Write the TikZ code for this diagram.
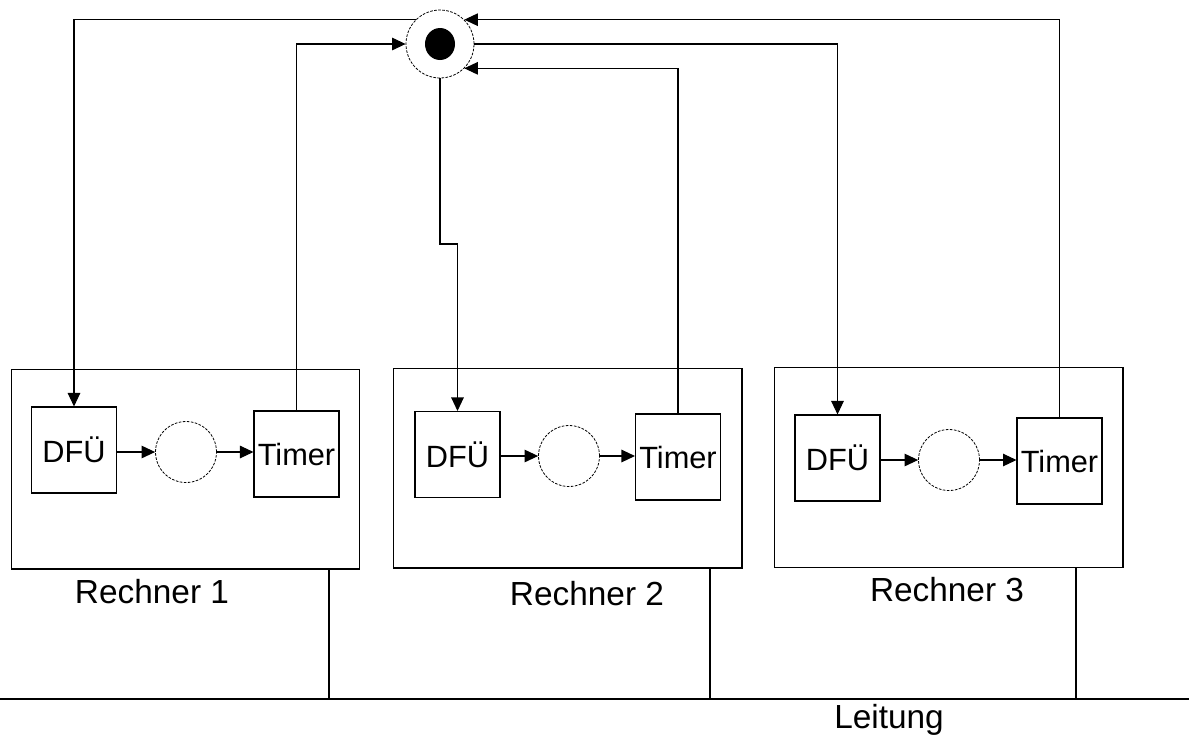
\documentclass[tikz,border=0pt]{standalone}
\usepackage{fontspec}
\setmainfont{Liberation Sans}
\usetikzlibrary{arrows.meta}

\begin{document}
\begin{tikzpicture}[x=0.02cm,y=-0.02cm,line width=0.6pt,
  flow/.style={-{Triangle[length=0.27cm,width=0.25cm]}},
  rechner/.style={draw,minimum width=6.98cm,minimum height=4cm,inner sep=0pt},
  unit/.style={draw,minimum width=1.7cm,minimum height=1.72cm,inner sep=0pt,font=\fontsize{17.5}{19}\selectfont},
  queue/.style={draw,circle,dash pattern=on 1.5pt off 0.8pt,line width=0.45pt,minimum size=1.22cm,inner sep=0pt},
  lbl/.style={font=\fontsize{19}{21}\selectfont}]
\useasboundingbox (0,0) rectangle (1189,738);

\node[queue,minimum size=1.36cm] (hub) at (440,44) {};
\fill (hub.center) ellipse [x radius=0.3cm,y radius=0.32cm];

\node[rechner] (r1) at (185.5,469) {};
\node[rechner] (r2) at (567.5,468) {};
\node[rechner] (r3) at (948.5,467.5) {};

\node[unit] (dfu1) at (74,450) {DFÜ};
\node[queue] (q1) at (186,452) {};
\node[unit] (timer1) at (296.5,454) {Timer};

\node[unit] (dfu2) at (457.5,454.5) {DFÜ};
\node[queue] (q2) at (569,456) {};
\node[unit] (timer2) at (678,457) {Timer};

\node[unit] (dfu3) at (837.5,458) {DFÜ};
\node[queue] (q3) at (949,460) {};
\node[unit] (timer3) at (1059.5,461) {Timer};

\node[lbl] (name1) at (152,592) {Rechner 1};
\node[lbl] (name2) at (587,594) {Rechner 2};
\node[lbl] (name3) at (947,590) {Rechner 3};
\node[lbl] (leitung) at (889,720) {Leitung};

\draw[flow] (dfu1.east |- q1) -- (q1);
\draw[flow] (q1) -- (q1 -| timer1.west);
\draw[flow] (dfu2.east |- q2) -- (q2);
\draw[flow] (q2) -- (q2 -| timer2.west);
\draw[flow] (dfu3.east |- q3) -- (q3);
\draw[flow] (q3) -- (q3 -| timer3.west);

\coordinate (jog) at (440,244);
\draw[flow] (hub.135) -| (dfu1.north);
\draw[flow] (timer1.north) |- (hub.west);
\draw[flow] (hub.south) -- (jog) -| (dfu2.north);
\draw[flow] (timer2.north) |- (hub.-45);
\draw[flow] (hub.east) -| (dfu3.north);
\draw[flow] (timer3.north) |- (hub.45);

\coordinate (busL) at (0,699);
\coordinate (busR) at (1189,699);
\coordinate (tap1) at (329,699);
\coordinate (tap2) at (710,699);
\coordinate (tap3) at (1076,699);
\draw (busL) -- (busR);
\draw (tap1) -- (tap1 |- r1.south);
\draw (tap2) -- (tap2 |- r2.south);
\draw (tap3) -- (tap3 |- r3.south);
\end{tikzpicture}
\end{document}
